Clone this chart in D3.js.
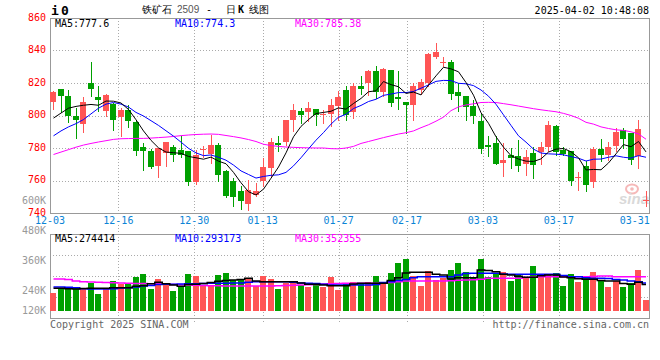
<!DOCTYPE html>
<html>
<head>
<meta charset="utf-8">
<script src="https://cdn.jsdelivr.net/npm/d3@7"></script>
<style>
  body { margin: 0; background: #fff; }
  svg text { font-family: 'DejaVu Sans Mono', monospace; font-size: 10px; }
</style>
</head>
<body>
<div id="chart"></div>
<script>
// trading days 2024-12-03 .. 2025-04-02
const dates = [
  '12-03', '12-04', '12-05', '12-06', '12-09', '12-10', '12-11', '12-12', '12-13', '12-16',
  '12-17', '12-18', '12-19', '12-20', '12-23', '12-24', '12-25', '12-26', '12-27', '12-30',
  '12-31', '01-02', '01-03', '01-06', '01-07', '01-08', '01-09', '01-10', '01-13', '01-14',
  '01-15', '01-16', '01-17', '01-20', '01-21', '01-22', '01-23', '01-24', '01-27', '02-05',
  '02-06', '02-07', '02-10', '02-11', '02-12', '02-13', '02-14', '02-17', '02-18', '02-19',
  '02-20', '02-21', '02-24', '02-25', '02-26', '02-27', '02-28', '03-03', '03-04', '03-05',
  '03-06', '03-07', '03-10', '03-11', '03-12', '03-13', '03-14', '03-17', '03-18', '03-19',
  '03-20', '03-21', '03-24', '03-25', '03-26', '03-27', '03-28', '03-31', '04-01', '04-02'
]
const tickDates = ['12-03', '12-16', '12-30', '01-13', '01-27', '02-17', '03-03', '03-17', '03-31']
const priceTicks = [860, 840, 820, 800, 780, 760, 740]
const volTicks = [600, 480, 360, 240, 120] // K

const open = [
  808.6, 816.2, 811.7, 799.8, 794.5, 820.3, 811.1, 802.5, 807.0, 798.8,
  803.5, 796.1, 780.4, 778.3, 768.7, 776.9, 780.4, 778.9, 778.3, 758.9,
  778.5, 776.5, 782.0, 766.0, 759.9, 753.3, 745.7, 751.3, 759.5, 767.5,
  783.0, 783.4, 797.4, 802.9, 801.9, 803.9, 800.7, 801.1, 805.6, 815.4,
  801.9, 818.3, 819.9, 827.5, 814.2, 828.1, 811.1, 808.6, 806.4, 815.4,
  819.9, 836.3, 832.2, 833.2, 814.2, 812.1, 805.6, 796.4, 782.0, 783.0,
  770.7, 775.5, 775.2, 770.3, 776.9, 777.3, 780.4, 793.7, 778.9, 778.3,
  761.5, 768.7, 758.9, 779.5, 775.5, 781.4, 791.2, 789.2, 774.8, 747.4
]
const high = [
  814.8, 816.6, 815.8, 804.5, 811.3, 833.2, 818.4, 813.4, 808.0, 804.5,
  806.6, 797.4, 783.0, 779.3, 780.0, 783.4, 782.0, 787.1, 778.3, 778.9,
  781.0, 788.1, 783.0, 766.6, 761.5, 756.4, 760.5, 758.4, 773.8, 786.1,
  787.5, 797.4, 807.2, 804.5, 808.6, 803.9, 803.5, 810.0, 814.8, 817.9,
  820.3, 824.4, 828.1, 830.6, 829.3, 828.1, 827.5, 808.6, 820.0, 822.3,
  838.4, 844.5, 836.3, 834.3, 820.3, 812.1, 809.7, 801.5, 787.1, 787.1,
  783.0, 780.0, 785.1, 778.5, 780.6, 783.4, 796.4, 794.3, 780.9, 778.3,
  765.0, 771.8, 780.9, 785.5, 784.0, 792.3, 792.3, 789.2, 797.4, 753.3
]
const low = [
  804.1, 801.9, 795.7, 785.9, 789.6, 811.7, 802.5, 799.4, 791.2, 787.5,
  792.9, 775.9, 766.6, 767.7, 761.9, 769.1, 771.8, 774.4, 757.4, 757.8,
  774.4, 770.7, 759.5, 750.0, 744.5, 742.5, 742.0, 750.2, 756.4, 762.1,
  777.9, 782.0, 790.2, 795.3, 796.4, 794.3, 795.3, 793.7, 797.4, 797.0,
  798.4, 813.4, 812.7, 810.7, 811.7, 806.0, 803.9, 789.2, 797.4, 813.4,
  817.9, 835.3, 830.2, 810.1, 802.5, 797.4, 795.3, 776.9, 774.8, 770.3,
  762.5, 767.7, 765.6, 763.6, 761.5, 770.3, 777.9, 775.9, 775.9, 757.4,
  754.3, 753.3, 756.0, 772.3, 772.7, 777.9, 780.0, 770.3, 767.7, 744.1
]
const close = [
  814.4, 811.7, 799.8, 797.4, 808.4, 816.6, 809.3, 812.7, 797.0, 803.1,
  796.4, 777.9, 777.9, 768.3, 780.0, 783.4, 775.9, 775.7, 758.9, 775.9,
  779.3, 782.0, 763.6, 750.7, 749.6, 747.2, 754.3, 753.7, 768.5, 783.4,
  781.8, 797.4, 803.5, 800.2, 804.7, 800.2, 801.1, 806.6, 811.1, 800.4,
  817.9, 816.6, 827.1, 814.2, 828.9, 808.0, 810.3, 806.4, 818.3, 820.7,
  837.7, 838.8, 833.0, 813.2, 811.7, 805.0, 799.4, 779.3, 780.6, 770.3,
  772.7, 773.6, 768.7, 774.4, 769.3, 780.6, 794.3, 777.7, 776.5, 759.5,
  761.9, 757.0, 779.3, 775.5, 780.4, 789.6, 785.5, 772.8, 791.6, 748.0
]
const ma5 = [
  798.4, 801.5, 804.5, 805.6, 806.3, 806.8, 806.3, 808.9, 808.8, 807.7,
  803.7, 797.4, 790.5, 784.7, 780.1, 777.5, 777.1, 776.7, 774.8, 774.0,
  773.1, 774.4, 771.9, 770.3, 765.0, 758.6, 753.1, 751.1, 754.7, 761.4,
  768.3, 777.0, 786.9, 793.3, 797.5, 801.2, 801.9, 802.6, 804.7, 803.9,
  807.4, 810.5, 814.6, 815.2, 820.9, 819.0, 817.7, 813.6, 814.4, 812.7,
  818.7, 824.4, 829.7, 828.7, 826.9, 820.3, 812.5, 801.7, 795.2, 786.9,
  780.5, 775.3, 773.2, 771.9, 771.7, 773.3, 777.5, 779.3, 779.7, 777.7,
  774.0, 766.5, 766.8, 766.6, 770.8, 776.4, 782.1, 780.8, 784.0, 777.6
]
const ma10 = [
  787.5, 790.5, 793.0, 795.0, 797.5, 801.0, 804.5, 807.0, 808.0, 807.0,
  805.2, 801.9, 799.7, 796.8, 793.9, 790.6, 787.3, 783.6, 779.8, 777.0,
  775.3, 775.7, 774.3, 772.5, 769.5, 765.9, 763.7, 761.5, 762.5, 763.2,
  763.5, 765.0, 769.0, 774.0, 779.5, 784.8, 789.5, 794.7, 799.0, 800.7,
  804.3, 806.2, 808.6, 810.0, 812.4, 813.2, 814.1, 814.1, 814.8, 816.8,
  818.8, 821.0, 821.6, 821.5, 819.8, 819.5, 818.4, 815.7, 811.9, 806.9,
  800.4, 793.9, 787.5, 783.6, 779.3, 776.9, 776.4, 776.2, 775.8, 774.7,
  773.7, 772.0, 773.1, 773.2, 774.3, 775.2, 774.3, 773.8, 775.3, 774.3
]
const ma30 = [
  776.0, 777.5, 779.0, 780.5, 781.8, 782.8, 783.7, 784.5, 785.3, 785.7,
  785.8, 785.9, 785.9, 786.1, 786.4, 786.7, 787.1, 787.6, 788.0, 788.3,
  788.5, 788.6, 788.4, 787.7, 787.0, 786.2, 785.2, 784.0, 782.3, 781.5,
  781.0, 780.6, 780.4, 780.2, 780.1, 780.0, 780.0, 779.6, 779.5, 780.0,
  781.0, 782.8, 784.0, 785.2, 786.4, 787.5, 788.6, 789.4, 790.5, 792.5,
  794.3, 796.5, 799.0, 803.0, 805.3, 806.5, 807.2, 808.0, 808.1, 808.0,
  807.3, 806.6, 805.8, 805.0, 804.2, 803.5, 802.9, 802.3, 801.3, 800.0,
  798.3, 795.8, 794.7, 793.0, 792.0, 791.2, 790.8, 790.0, 788.7, 785.4
]
// volume, thousands of lots
const vol = [
  228, 244, 244, 252, 248, 269, 224, 249, 276, 263,
  263, 292, 304, 244, 284, 260, 236, 253, 304, 297,
  260, 256, 300, 308, 280, 280, 284, 256, 296, 284,
  244, 267, 269, 260, 253, 263, 253, 293, 240, 267,
  273, 267, 273, 296, 267, 307, 349, 364, 296, 256,
  316, 280, 287, 320, 347, 311, 293, 364, 293, 303,
  311, 276, 300, 291, 336, 293, 303, 307, 256, 303,
  272, 287, 311, 276, 252, 276, 252, 267, 320, 200
]
const vma5 = [
  247, 247, 245, 244, 246, 247, 247, 247, 249, 249,
  249, 255, 257, 265, 271, 265, 260, 255, 262, 263,
  266, 270, 275, 278, 280, 282, 287, 276, 273, 273,
  273, 273, 273, 268, 263, 263, 260, 257, 257, 257,
  264, 267, 267, 267, 267, 278, 289, 308, 311, 311,
  311, 303, 300, 284, 289, 289, 289, 320, 318, 313,
  303, 300, 295, 291, 291, 297, 300, 300, 292, 289,
  285, 283, 283, 278, 276, 276, 266, 263, 271, 262
]
const vma10 = [
  252, 252, 251, 249, 245, 244, 244, 244, 245, 248,
  249, 252, 256, 258, 262, 263, 263, 264, 265, 265,
  266, 267, 267, 267, 268, 268, 271, 273, 273, 273,
  273, 273, 271, 268, 267, 266, 263, 260, 260, 260,
  260, 260, 260, 262, 270, 273, 278, 282, 289, 293,
  293, 293, 293, 293, 300, 306, 307, 307, 307, 307,
  304, 303, 303, 303, 303, 303, 303, 303, 298, 293,
  293, 289, 287, 287, 286, 282, 280, 276, 273, 268
]
const vma30 = [
  284, 284, 282, 276, 273, 272, 271, 270, 269, 268,
  267, 266, 266, 265, 264, 263, 262, 261, 260, 259,
  258, 257, 257, 256, 256, 256, 256, 256, 256, 256,
  257, 258, 259, 260, 261, 262, 264, 265, 266, 267,
  267, 267, 267, 267, 268, 270, 273, 276, 276, 276,
  276, 276, 276, 277, 279, 280, 281, 283, 287, 287,
  287, 287, 287, 290, 292, 293, 293, 293, 293, 293,
  293, 293, 294, 296, 296, 293, 293, 293, 293, 293
]

const op = {
  width: 660,
  height: 360,
  left: 50,
  right: 650,
  priceTop: 18,
  priceBottom: 213,
  volTop: 234,
  volBottom: 318,
  barW: 6,
  red: '#ff5555',
  green: '#00a000',
  grid: '#aaaaaa',
  frame: '#999999'
}

const svg = d3.select('#chart').append('svg')
  .attr('width', op.width).attr('height', op.height)

const xb = d3.scaleBand().domain(dates).range([op.left, op.right])
const xp = d3.scalePoint().domain(dates).range([op.left, op.right])
const y = d3.scaleLinear().domain([740, 860]).range([op.priceBottom, op.priceTop])
const yv = d3.scaleLinear().domain([156, 480]).range([311, 230])

const bx = d => Math.round(xb(d))
const px = v => Math.round(y(v))
const up = i => close[i] >= open[i]

// grid
const grid = svg.append('g').attr('stroke', op.grid).attr('stroke-dasharray', '1,2')
grid.selectAll('.hgrid').data(priceTicks.slice(1, -1)).enter()
  .append('line')
  .attr('x1', op.left).attr('x2', op.right)
  .attr('y1', d => px(d) + 0.5).attr('y2', d => px(d) + 0.5)
grid.selectAll('.vgrid').data(tickDates.slice(1, -1)).enter()
  .append('line')
  .attr('x1', d => Math.round(xp(d)) + 0.5).attr('x2', d => Math.round(xp(d)) + 0.5)
  .attr('y1', op.priceTop).attr('y2', 216)
grid.selectAll('.vgrid2').data(tickDates.slice(1, -1)).enter()
  .append('line')
  .attr('x1', d => Math.round(xp(d)) + 0.5).attr('x2', d => Math.round(xp(d)) + 0.5)
  .attr('y1', 225).attr('y2', 322)
grid.selectAll('.vhgrid').data(d3.range(1, 4)).enter()
  .append('line')
  .attr('x1', op.left).attr('x2', op.right)
  .attr('y1', k => op.volTop + k * 21 + 0.5).attr('y2', k => op.volTop + k * 21 + 0.5)

// frames
svg.append('rect')
  .attr('x', op.left + 0.5).attr('y', op.priceTop + 0.5)
  .attr('width', op.right - op.left - 1).attr('height', op.priceBottom - op.priceTop)
  .attr('fill', 'none').attr('stroke', op.frame)
svg.append('rect')
  .attr('x', op.left + 0.5).attr('y', op.volTop + 0.5)
  .attr('width', op.right - op.left - 1).attr('height', op.volBottom - op.volTop)
  .attr('fill', 'none').attr('stroke', op.frame)

// sina watermark
const logo = svg.append('g').attr('opacity', 0.55)
logo.append('ellipse').attr('cx', 632).attr('cy', 189).attr('rx', 6).attr('ry', 4.5)
  .attr('fill', 'none').attr('stroke', '#f08080').attr('stroke-width', 2)
logo.append('circle').attr('cx', 632).attr('cy', 189).attr('r', 1.8).attr('fill', '#f08080')
logo.append('text').attr('x', 619).attr('y', 204)
  .style('font-family', 'Liberation Sans, sans-serif').style('font-size', '15px')
  .style('font-weight', 'bold').style('font-style', 'italic')
  .attr('fill', '#bbbbbb').text('sina')

// candles
const candles = svg.append('g').selectAll('g').data(dates).enter().append('g')
  .attr('fill', (d, i) => up(i) ? op.red : op.green)
  .attr('stroke', (d, i) => up(i) ? op.red : op.green)
candles.append('line')
  .attr('x1', d => bx(d) + 3.5).attr('x2', d => bx(d) + 3.5)
  .attr('y1', (d, i) => px(high[i])).attr('y2', (d, i) => px(low[i]) + 1)
candles.append('rect')
  .attr('stroke', 'none')
  .attr('x', d => bx(d))
  .attr('width', op.barW)
  .attr('y', (d, i) => px(Math.max(open[i], close[i])))
  .attr('height', (d, i) => Math.max(1, px(Math.min(open[i], close[i])) - px(Math.max(open[i], close[i]))))

// price MA lines
const maLine = d3.line().x((d, i) => xb(dates[i]) + 3.5).y(d => y(d))
;[[ma30, '#ff00ff'], [ma10, '#0000ff'], [ma5, '#000000']].forEach(([s, c]) => {
  svg.append('path').datum(s).attr('d', maLine)
    .attr('fill', 'none').attr('stroke', c).attr('stroke-width', 1)
})

// volume bars
svg.append('g').selectAll('rect').data(vol).enter().append('rect')
  .attr('x', (d, i) => bx(dates[i]))
  .attr('width', op.barW)
  .attr('y', d => Math.round(yv(d)))
  .attr('height', d => Math.round(yv(156)) - Math.round(yv(d)))
  .attr('fill', (d, i) => up(i) ? op.red : op.green)

const vLine = d3.line().curve(d3.curveStep).x((d, i) => xb(dates[i]) + 3.5).y(d => yv(d))
;[[vma30, '#ff00ff'], [vma10, '#0000ff'], [vma5, '#000000']].forEach(([s, c]) => {
  svg.append('path').datum(s).attr('d', vLine)
    .attr('fill', 'none').attr('stroke', c).attr('stroke-width', 1.5)
})

// axis labels
svg.append('g').selectAll('text').data(priceTicks).enter().append('text')
  .attr('x', 46).attr('y', d => y(d) + 2.5)
  .attr('text-anchor', 'end').attr('fill', '#ff0000')
  .text(d => d)
svg.append('g').selectAll('text').data(volTicks).enter().append('text')
  .attr('x', 46).attr('y', d => Math.min(yv(d), 310) + 4)
  .attr('text-anchor', 'end').attr('fill', '#999999')
  .text(d => d + 'K')
svg.append('g').selectAll('text').data(tickDates).enter().append('text')
  .attr('x', d => xp(d)).attr('y', 224)
  .attr('text-anchor', 'middle').attr('fill', '#0a84d6')
  .text(d => d)

// legends
const legend = (yy, items) => {
  svg.append('g').selectAll('text').data(items).enter().append('text')
    .attr('x', d => d[0]).attr('y', yy).attr('fill', d => d[2]).text(d => d[1])
}
legend(27, [[55, 'MA5:777.6', '#000'], [175, 'MA10:774.3', '#0000ff'], [295, 'MA30:785.38', '#ff00ff']])
legend(242, [[55, 'MA5:274414', '#000'], [175, 'MA10:293173', '#0000ff'], [295, 'MA30:352355', '#ff00ff']])

// header
const head = svg.append('text').attr('x', 51).attr('y', 15)
  .style('font-size', '13px').style('font-weight', 'bold').attr('fill', '#000')
head.append('tspan').text('i')
head.append('tspan').attr('x', 61).text('0')

const title = svg.append('g')
  .style('font-family', "'Noto Sans CJK SC', sans-serif").style('font-size', '12px')
const titleParts = [
  [142, '铁矿石', '#000', 'normal'],
  [177, '2509', '#555', 'normal'],
  [206, '-', '#000', 'normal'],
  [226, '日', '#000', 'normal'],
  [238, 'K', '#000', 'bold'],
  [249, '线图', '#000', 'normal']
]
title.selectAll('text').data(titleParts).enter().append('text')
  .attr('x', d => d[0]).attr('y', 13)
  .attr('fill', d => d[2]).style('font-weight', d => d[3])
  .style('font-family', d => d[1] === '2509' ? 'Liberation Sans, sans-serif' : null)
  .text(d => d[1])

svg.append('text').attr('x', 649).attr('y', 14).attr('text-anchor', 'end')
  .attr('fill', '#000').text('2025-04-02 10:48:08')

svg.append('text').attr('x', 50).attr('y', 328).attr('fill', '#666').text('Copyright 2025 SINA.COM')
svg.append('text').attr('x', 649).attr('y', 328).attr('text-anchor', 'end').attr('fill', '#666').text('http://finance.sina.com.cn')
</script>
</body>
</html>
